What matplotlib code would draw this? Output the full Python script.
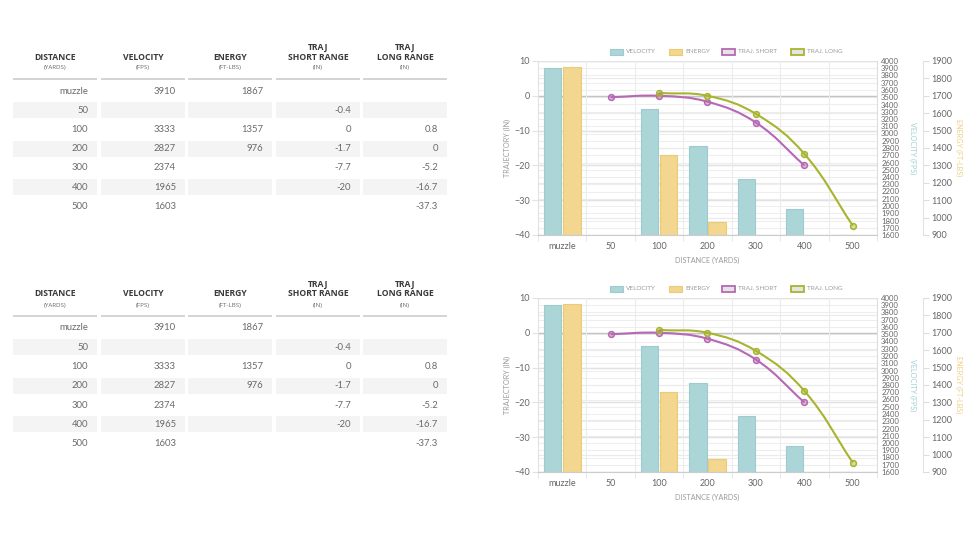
import matplotlib
matplotlib.use('Agg')
import matplotlib.pyplot as plt
from matplotlib.path import Path
from matplotlib.patches import PathPatch, Rectangle
import numpy as np

# ---------------- data ----------------
distances = ['muzzle', '50', '100', '200', '300', '400', '500']
velocity = [3910, None, 3333, 2827, 2374, 1965, 1603]
energy = [1867, None, 1357, 976, None, None, None]
traj_short = [None, -0.4, 0, -1.7, -7.7, -20, None]
traj_long = [None, None, 0.8, 0, -5.2, -16.7, -37.3]

table_headers = [['DISTANCE'], ['VELOCITY'], ['ENERGY'], ['TRAJ', 'SHORT RANGE'], ['TRAJ', 'LONG RANGE']]
table_units = ['(YARDS)', '(FPS)', '(FT-LBS)', '(IN)', '(IN)']
legend_labels = ['VELOCITY', 'ENERGY', 'TRAJ. SHORT', 'TRAJ. LONG']
traj_ticks = [-40, -30, -20, -10, 0, 10]
velocity_ticks = list(range(1600, 4001, 100))
energy_ticks = list(range(900, 1901, 100))

# ---------------- style ----------------
plt.rcParams['font.family'] = ['Lato', 'DejaVu Sans']
TEAL = '#acd5d8'
TEAL_E = '#9dcbcf'
YEL = '#f3d68f'
YEL_E = '#ebcb78'
PURPLE = '#b768b4'
OLIVE = '#a8b42e'

W, H = 978, 550
fig = plt.figure(figsize=(W / 100, H / 100), dpi=100)
fig.patch.set_facecolor('white')
bg = fig.add_axes([0, 0, 1, 1])
bg.set_xlim(0, W)
bg.set_ylim(H, 0)
bg.axis('off')
bg.set_zorder(0)

cols = [(13, 97), (101, 185), (188, 272), (276, 360), (363, 447)]


def fmt(v):
    return '' if v is None else f'{v:g}'


def draw_table(dy):
    for (x0, x1), hdr, unit in zip(cols, table_headers, table_units):
        cx = (x0 + x1) / 2
        n = len(hdr)
        for i, line in enumerate(hdr):
            bg.text(cx, 57 + dy - 9.5 * (n - 1 - i), line, ha='center', va='center',
                    fontsize=6.2, fontweight='bold', color='#3a3a3a', family=['Open Sans', 'DejaVu Sans'])
        bg.text(cx, 68 + dy, unit, ha='center', va='center', fontsize=4.4,
                color='#666666', family=['Open Sans', 'DejaVu Sans'])
        bg.plot([x0, x1], [79 + dy, 79 + dy], color='#d4d4d4', lw=1.4, solid_capstyle='butt')
    columns = [distances, velocity, energy, traj_short, traj_long]
    for r in range(len(distances)):
        yc = 91 + dy + r * 19.25
        for c, (x0, x1) in enumerate(cols):
            if r % 2 == 1:
                bg.add_patch(Rectangle((x0, yc - 8), x1 - x0, 16, facecolor='#f4f4f4', edgecolor='none'))
            bg.text(x1 - 9, yc, fmt(columns[c][r]) if c > 0 else distances[r], ha='right', va='center',
                    fontsize=6.8, color='#6a6a6a')


def spline_path(ax, xs, ys, t=0.4):
    pts = ax.transData.transform(np.column_stack([xs, ys]))
    n = len(pts)
    cps = []
    for i in range(n):
        prev = pts[i - 1] if i > 0 else pts[i]
        cur = pts[i]
        nxt = pts[i + 1] if i < n - 1 else pts[i]
        d01 = np.hypot(*(cur - prev))
        d12 = np.hypot(*(nxt - cur))
        s = d01 + d12
        s01 = d01 / s if s else 0
        s12 = d12 / s if s else 0
        cps.append((cur - t * s01 * (nxt - prev), cur + t * s12 * (nxt - prev)))
    verts = [pts[0]]
    codes = [Path.MOVETO]
    for i in range(1, n):
        verts += [cps[i - 1][1], cps[i][0], pts[i]]
        codes += [Path.CURVE4] * 3
    inv = ax.transData.inverted()
    return Path(inv.transform(np.array(verts)), codes)


def draw_chart(dy):
    top, bot, left, right = 61 + dy, 235 + dy, 538, 877
    rect = [left / W, 1 - bot / H, (right - left) / W, (bot - top) / H]
    ax_t = fig.add_axes(rect)
    ax_v = ax_t.twinx()
    ax_e = ax_t.twinx()
    ax_v.set_zorder(1)
    ax_e.set_zorder(2)
    ax_t.set_zorder(3)
    for a in (ax_t, ax_v, ax_e):
        a.patch.set_visible(False)
    ax_t.set_xlim(-0.5, len(distances) - 0.5)
    ax_t.set_ylim(-40, 10)
    ax_v.set_ylim(1600, 4000)
    ax_e.set_ylim(900, 1900)

    # grid lines (drawn on the bottom axes, in velocity coordinates)
    for v in velocity_ticks:
        ax_v.axhline(v, color='#eeeeee', lw=0.8, zorder=0)
    for e in energy_ticks:
        ax_v.axhline(1600 + (e - 900) / 1000 * 2400, color='#eaeaea', lw=0.8, zorder=0)
    for tv in traj_ticks:
        c = '#c4c4c4' if tv == 0 else '#e2e2e2'
        ax_v.axhline(1600 + (tv + 40) / 50 * 2400, color=c, lw=1.0, zorder=0)
    for k in range(len(distances) - 1):
        ax_v.axvline(k + 0.5, color='#ececec', lw=0.8, zorder=0)

    x = np.arange(len(distances))
    vx = [xi - 0.2 for xi, v in zip(x, velocity) if v is not None]
    vv = [v for v in velocity if v is not None]
    ax_v.bar(vx, vv, width=0.36, color=TEAL, edgecolor=TEAL_E, lw=0.8, zorder=2)
    ex = [xi + 0.2 for xi, e in zip(x, energy) if e is not None]
    ev = [e for e in energy if e is not None]
    ax_e.bar(ex, ev, width=0.36, color=YEL, edgecolor=YEL_E, lw=0.8, zorder=2)
    ax_t.set_xlim(-0.5, len(distances) - 0.5)

    for series, col in ((traj_short, PURPLE), (traj_long, OLIVE)):
        xs = [xi for xi, s in zip(x, series) if s is not None]
        ys = [s for s in series if s is not None]
        ax_t.add_patch(PathPatch(spline_path(ax_t, xs, ys), fill=False, edgecolor=col, lw=1.5, zorder=4))
        ax_t.plot(xs, ys, 'o', ms=4.2, mfc=matplotlib.colors.to_rgba(col, 0.45), mec=col, mew=1.1, zorder=5)

    # axes styling
    for a in (ax_t, ax_v, ax_e):
        for s in a.spines.values():
            s.set_visible(False)
    ax_t.spines['bottom'].set_visible(True)
    ax_t.spines['bottom'].set_color('#cccccc')
    ax_t.spines['left'].set_visible(True)
    ax_t.spines['left'].set_color('#e2e2e2')
    ax_v.spines['right'].set_visible(True)
    ax_v.spines['right'].set_color('#dddddd')
    ax_e.spines['right'].set_visible(True)
    ax_e.spines['right'].set_color('#e2e2e2')
    ax_e.spines['right'].set_position(('outward', 46 * 0.72))

    ax_t.set_yticks(traj_ticks)
    ax_t.tick_params(axis='y', labelsize=6.5, labelcolor='#666666', length=4, color='#e2e2e2', pad=2)
    ax_t.set_xticks(x)
    ax_t.set_xticklabels(distances)
    ax_t.set_xticks(np.arange(-0.5, len(distances), 1), minor=True)
    ax_t.tick_params(axis='x', which='major', labelsize=6.5, labelcolor='#666666', length=0, pad=5)
    ax_t.tick_params(axis='x', which='minor', length=4, color='#e2e2e2')
    ax_v.set_yticks(velocity_ticks)
    ax_v.tick_params(axis='y', labelsize=5.6, labelcolor='#666666', length=0, pad=3)
    ax_e.set_yticks(energy_ticks)
    ax_e.tick_params(axis='y', labelsize=6.5, labelcolor='#666666', length=4, color='#dddddd', pad=2)

    # axis titles
    bg.text(507, (top + bot) / 2, 'TRAJECTORY (IN)', rotation=90, ha='center', va='center',
            fontsize=5.2, color='#9a9a9a')
    bg.text(913, (top + bot) / 2, 'VELOCITY (FPS)', rotation=270, ha='center', va='center',
            fontsize=5.2, color='#9fd0d4')
    bg.text(959, (top + bot) / 2, 'ENERGY (FT-LBS)', rotation=270, ha='center', va='center',
            fontsize=5.2, color='#efd084')
    bg.text(707, 260 + dy, 'DISTANCE (YARDS)', ha='center', va='center', fontsize=5.2, color='#9a9a9a')

    # legend
    items = [(610, TEAL, TEAL_E), (669, YEL, YEL_E), (722, '#e4e4e4', PURPLE), (791, '#e4e4e4', OLIVE)]
    for (lx, fc, ec), lab in zip(items, legend_labels):
        lw = 0.8 if fc in (TEAL, YEL) else 1.3
        bg.add_patch(Rectangle((lx, 49 + dy), 13, 5.5, facecolor=fc, edgecolor=ec, lw=lw))
        bg.text(lx + 16, 51.8 + dy, lab, ha='left', va='center', fontsize=4.6, color='#9a9a9a')


for dy in (0, 237):
    draw_table(dy)
    draw_chart(dy)

fig.savefig('out.png', dpi=100, facecolor='white')
